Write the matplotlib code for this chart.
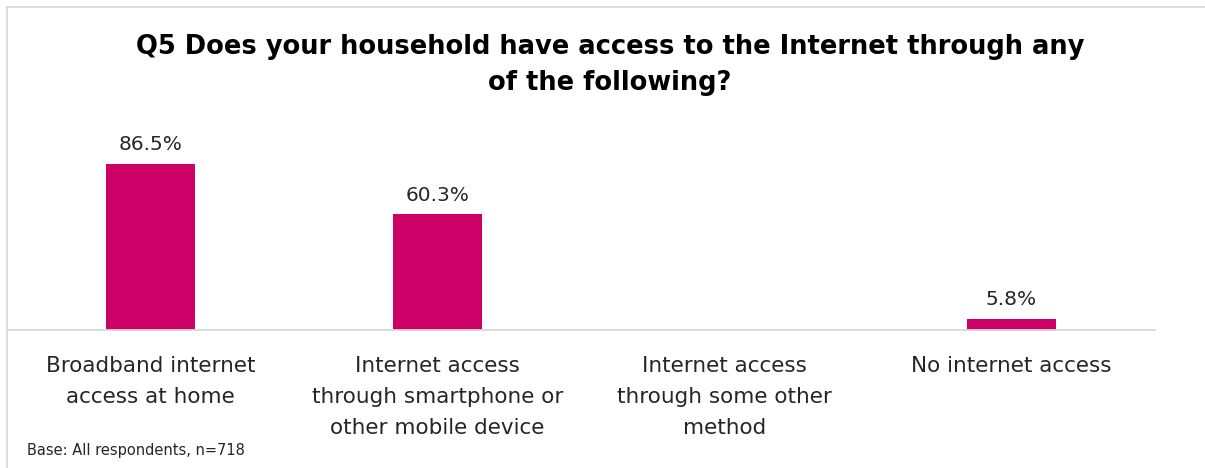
import numpy as np
import matplotlib.pyplot as plt
from matplotlib.lines import Line2D

categories = [
    "Broadband internet\naccess at home",
    "Internet access\nthrough smartphone or\nother mobile device",
    "Internet access\nthrough some other\nmethod",
    "No internet access",
]
values = [86.5, 60.3, np.nan, 5.8]
labels = ["86.5%", "60.3%", "", "5.8%"]

title = "Q5 Does your household have access to the Internet through any\nof the following?"
base_note = "Base: All respondents, n=718"

bar_color = "#CC0066"
text_color = "#262626"

plt.rcParams["font.family"] = ["DejaVu Sans"]

W, H = 1205, 468
fig = plt.figure(figsize=(W / 100, H / 100), dpi=100)
fig.patch.set_facecolor("white")

# plot area in pixel terms: x 7..1155, y 138..330 from top
ax = fig.add_axes([7 / W, 1 - 330 / H, (1155 - 7) / W, (330 - 138) / H])
x = np.arange(len(categories))
ax.bar(x, np.nan_to_num(values), width=0.31, color=bar_color)
ax.set_xlim(-0.5, len(categories) - 0.5)
ax.set_ylim(0, 100)

for xi, v, lab in zip(x, values, labels):
    if lab:
        ax.text(xi, v + 5, lab, ha="center", va="bottom",
                fontsize=14.5, color=text_color)

ax.set_xticks(x)
ax.set_xticklabels(categories, fontsize=15.5, color=text_color, linespacing=1.68)
ax.tick_params(axis="x", length=0, pad=19)
ax.set_yticks([])
for s in ["top", "right", "left"]:
    ax.spines[s].set_visible(False)
ax.spines["bottom"].set_color("#d9d9d9")
ax.spines["bottom"].set_linewidth(1.3)

fig.text(610 / W, 1 - 65 / H, title, ha="center", va="center",
         fontsize=18.5, fontweight="bold", color="black", linespacing=1.5)
fig.text(27 / W, 1 - 451 / H, base_note, ha="left", va="center",
         fontsize=10.5, color=text_color)

# outer frame lines (top and left)
fig.add_artist(Line2D([7 / W, 1], [1 - 7 / H, 1 - 7 / H],
                      transform=fig.transFigure, color="#d9d9d9", lw=1.3))
fig.add_artist(Line2D([7 / W, 7 / W], [0, 1 - 7 / H],
                      transform=fig.transFigure, color="#d9d9d9", lw=1.3))

fig.savefig("out.png", dpi=100)
